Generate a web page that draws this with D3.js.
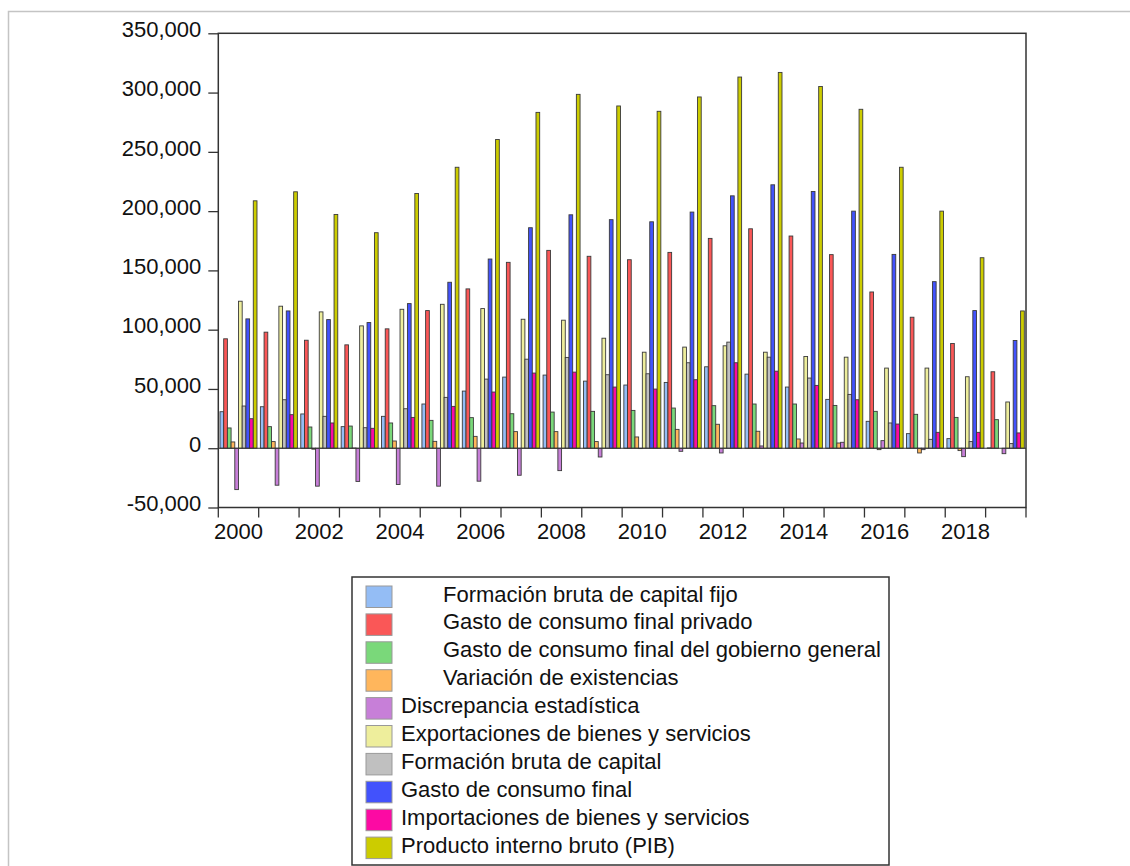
<!DOCTYPE html>
<html>
<head>
<meta charset="utf-8">
<script src="https://cdn.jsdelivr.net/npm/d3@7/dist/d3.min.js"></script>
<style>
  html, body { margin: 0; padding: 0; background: #fff; }
  svg { display: block; font-family: "Liberation Sans", Arial, sans-serif; }
</style>
</head>
<body>
<svg id="chart" width="1130" height="866"></svg>
<script>
// Years on the category axis
const years = d3.range(2000, 2020);

// Series names (legend order = bar order within each year)
const seriesNames = [
  "Formación bruta de capital fijo",
  "Gasto de consumo final privado",
  "Gasto de consumo final del gobierno general",
  "Variación de existencias",
  "Discrepancia estadística",
  "Exportaciones de bienes y servicios",
  "Formación bruta de capital",
  "Gasto de consumo final",
  "Importaciones de bienes y servicios",
  "Producto interno bruto (PIB)"
];

const seriesColors = [
  "#94bdf5", "#fa5757", "#7ad87a", "#ffb65c", "#c77fd8",
  "#eeee9c", "#c0c0c0", "#4252fc", "#fc0aa3", "#cccc00"
];

// Legend entries drawn with a wider text indent
const indented = [true, true, true, true, false, false, false, false, false, false];

// Values, one array per series (2000..2019)
const formacionBrutaCapitalFijo = [30800, 35000, 28900, 18200, 26900, 37300, 48200, 60000, 61700, 56600, 53300, 55500, 68700, 62500, 51600, 41200, 22700, 12300, 8100, 300];
const consumoPrivado = [92300, 97900, 91100, 87200, 100700, 116100, 134400, 156800, 166900, 161900, 159000, 165200, 177000, 185100, 179000, 163300, 131800, 110500, 88300, 64500];
const consumoGobierno = [17100, 18200, 17900, 18700, 21300, 23500, 25800, 29100, 30500, 31100, 31900, 33900, 35900, 37300, 37300, 36100, 31100, 28600, 26000, 24100];
const variacionExistencias = [5300, 5600, -800, 200, 6100, 5800, 10000, 14000, 14000, 5600, 9500, 15900, 20200, 14300, 7800, 4400, -1200, -4000, -2000, 0];
const discrepancia = [-34900, -31200, -32000, -28000, -30600, -32000, -27800, -22800, -18900, -7400, -300, -2600, -4000, 1900, 4400, 5000, 6400, -1200, -7100, -4600];
const exportaciones = [124000, 119800, 115000, 103200, 117200, 121400, 117800, 108800, 108000, 92800, 81000, 85300, 86400, 81000, 77400, 76800, 67600, 67600, 60300, 39000];
const formacionBrutaCapital = [35600, 40900, 26900, 17300, 33300, 42900, 58300, 75100, 76600, 62000, 62800, 72100, 89500, 76800, 59200, 45400, 21300, 7500, 5600, 3900];
const consumoFinal = [109100, 115800, 108500, 106000, 122000, 140000, 159600, 186000, 196900, 192800, 191000, 199200, 212900, 222200, 216600, 200000, 163500, 140500, 116100, 90900];
const importaciones = [24900, 28300, 21300, 16800, 26000, 35300, 47400, 63400, 64200, 51600, 49900, 57800, 72100, 65000, 53000, 40900, 20400, 13400, 13400, 12900];
const pib = [208700, 216300, 197200, 181800, 214900, 237000, 260400, 283300, 298500, 288700, 284200, 296300, 313100, 317000, 305100, 285900, 237000, 200000, 160700, 115800];

const seriesValues = [
  formacionBrutaCapitalFijo, consumoPrivado, consumoGobierno, variacionExistencias,
  discrepancia, exportaciones, formacionBrutaCapital, consumoFinal, importaciones, pib
];

// Axis ticks
const yTicks = [-50000, 0, 50000, 100000, 150000, 200000, 250000, 300000, 350000];
const xLabelYears = years.filter(y => y % 2 === 0);

const svg = d3.select("#chart");

// Outer light frame
svg.append("rect")
  .attr("x", 8.5).attr("y", 11.5)
  .attr("width", 1200).attr("height", 900)
  .attr("fill", "none").attr("stroke", "#c4c4c4").attr("stroke-width", 1.5);

const plot = { left: 218.3, right: 1026, top: 33.3, bottom: 507.5 };

const y = d3.scaleLinear().domain([-50000, 350000]).range([plot.bottom, plot.top]);
const x0 = d3.scaleBand().domain(years).range([plot.left, plot.right]).padding(0);
const gw = x0.bandwidth();
const x1 = d3.scaleBand().domain(d3.range(seriesNames.length))
  .range([gw * 0.042, gw * 0.958]).padding(0);

// Bars
const rows = [];
years.forEach((yr, i) => {
  seriesValues.forEach((vals, s) => rows.push({ year: yr, s, v: vals[i] }));
});

svg.append("g").selectAll("rect")
  .data(rows)
  .join("rect")
  .attr("x", d => x0(d.year) + x1(d.s))
  .attr("width", x1.bandwidth())
  .attr("y", d => y(Math.max(0, d.v)))
  .attr("height", d => Math.abs(y(d.v) - y(0)))
  .attr("fill", d => seriesColors[d.s])
  .attr("stroke", "#3a3a3a")
  .attr("stroke-width", 0.9);

// Zero line
svg.append("line")
  .attr("x1", plot.left).attr("x2", plot.right)
  .attr("y1", y(0)).attr("y2", y(0))
  .attr("stroke", "#333").attr("stroke-width", 1.2);

// Plot frame
svg.append("rect")
  .attr("x", plot.left).attr("y", plot.top)
  .attr("width", plot.right - plot.left).attr("height", plot.bottom - plot.top)
  .attr("fill", "none").attr("stroke", "#333").attr("stroke-width", 1.5);

// Y axis (plain hyphen for negatives)
const fmt = d3.format(",");
const yAxis = d3.axisLeft(y).tickValues(yTicks).tickSize(10).tickPadding(7)
  .tickFormat(d => fmt(d).replace("\u2212", "-"));
const gy = svg.append("g").attr("transform", `translate(${plot.left},0)`).call(yAxis);
gy.select(".domain").remove();
gy.selectAll(".tick line").attr("stroke", "#333").attr("stroke-width", 1.3);
gy.selectAll(".tick text")
  .attr("font-family", "'Liberation Sans', Arial, sans-serif")
  .attr("font-size", 22).attr("fill", "#111")
  .attr("dy", "0.15em");

// X axis: ticks at year boundaries, labels on even years
const boundaries = years.map(yr => x0(yr)).concat([plot.right]);
svg.append("g").selectAll("line")
  .data(boundaries)
  .join("line")
  .attr("x1", d => d).attr("x2", d => d)
  .attr("y1", plot.bottom).attr("y2", plot.bottom + 10)
  .attr("stroke", "#333").attr("stroke-width", 1.3);

svg.append("g").selectAll("text")
  .data(xLabelYears)
  .join("text")
  .attr("x", d => x0(d) + gw / 2)
  .attr("y", 538.5)
  .attr("text-anchor", "middle")
  .attr("font-size", 22).attr("fill", "#111")
  .text(d => d);

// Legend
const legend = svg.append("g");
legend.append("rect")
  .attr("x", 352).attr("y", 577)
  .attr("width", 537).attr("height", 288)
  .attr("fill", "#fff").attr("stroke", "#333").attr("stroke-width", 1.5);

const rowPitch = 27.9;
const items = legend.selectAll("g.item")
  .data(seriesNames)
  .join("g")
  .attr("class", "item")
  .attr("transform", (d, i) => `translate(0,${586 + i * rowPitch})`);

items.append("rect")
  .attr("x", 366).attr("y", 0)
  .attr("width", 26).attr("height", 21.5)
  .attr("fill", (d, i) => seriesColors[i])
  .attr("stroke", "#999").attr("stroke-width", 1);

items.append("text")
  .attr("x", (d, i) => indented[i] ? 443 : 401)
  .attr("y", 15.5)
  .attr("font-size", 22).attr("fill", "#111")
  .text(d => d);
</script>
</body>
</html>
